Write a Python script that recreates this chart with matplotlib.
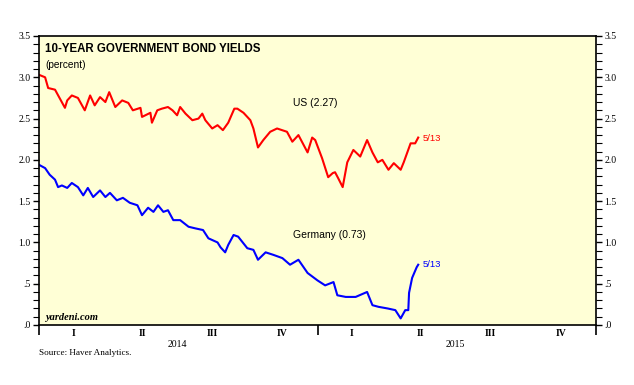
import numpy as np
import matplotlib
matplotlib.use("Agg")
import matplotlib.pyplot as plt
import pandas as pd

# US 10-year yield
us_dates = ["2014-01-01", "2014-01-09", "2014-01-13", "2014-01-22", "2014-02-04", "2014-02-07",
            "2014-02-13", "2014-02-21", "2014-03-02", "2014-03-09", "2014-03-15", "2014-03-22",
            "2014-03-29", "2014-04-03", "2014-04-11", "2014-04-20", "2014-04-28", "2014-05-04",
            "2014-05-14", "2014-05-16", "2014-05-27", "2014-05-29", "2014-06-05", "2014-06-11",
            "2014-06-19", "2014-06-25", "2014-07-01", "2014-07-05", "2014-07-12", "2014-07-21",
            "2014-07-29", "2014-08-03", "2014-08-07", "2014-08-16", "2014-08-23", "2014-08-30",
            "2014-09-06", "2014-09-14", "2014-09-18", "2014-09-26", "2014-10-05", "2014-10-09",
            "2014-10-15", "2014-10-22", "2014-10-31", "2014-11-09", "2014-11-22", "2014-11-29",
            "2014-12-07", "2014-12-19", "2014-12-25", "2014-12-29", "2015-01-07", "2015-01-15",
            "2015-01-21", "2015-01-24", "2015-01-28", "2015-02-03", "2015-02-09", "2015-02-17",
            "2015-02-26", "2015-03-07", "2015-03-14", "2015-03-21", "2015-03-27", "2015-04-04",
            "2015-04-11", "2015-04-20", "2015-04-24", "2015-05-03", "2015-05-09", "2015-05-13"]
us_vals = [3.03, 3.00, 2.87, 2.85, 2.63, 2.72, 2.78, 2.75, 2.60, 2.78, 2.66, 2.76,
           2.70, 2.82, 2.64, 2.72, 2.69, 2.60, 2.63, 2.52, 2.57, 2.45, 2.60, 2.62,
           2.64, 2.60, 2.54, 2.64, 2.56, 2.48, 2.50, 2.56, 2.48, 2.38, 2.42, 2.36,
           2.45, 2.62, 2.62, 2.57, 2.48, 2.38, 2.15, 2.24, 2.34, 2.38, 2.34, 2.22,
           2.30, 2.09, 2.27, 2.24, 2.02, 1.79, 1.84, 1.85, 1.78, 1.67, 1.97, 2.12,
           2.04, 2.24, 2.09, 1.97, 2.00, 1.88, 1.96, 1.88, 1.97, 2.20, 2.20, 2.27]

# German 10-year yield
de_dates = ["2014-01-01", "2014-01-09", "2014-01-15", "2014-01-22", "2014-01-26", "2014-01-31",
            "2014-02-07", "2014-02-13", "2014-02-21", "2014-02-28", "2014-03-06", "2014-03-13",
            "2014-03-22", "2014-03-29", "2014-04-04", "2014-04-13", "2014-04-21", "2014-04-30",
            "2014-05-10", "2014-05-16", "2014-05-24", "2014-05-31", "2014-06-06", "2014-06-13",
            "2014-06-19", "2014-06-26", "2014-07-05", "2014-07-16", "2014-07-25", "2014-08-04",
            "2014-08-11", "2014-08-23", "2014-08-27", "2014-08-30", "2014-09-02", "2014-09-06",
            "2014-09-13", "2014-09-19", "2014-10-01", "2014-10-09", "2014-10-15", "2014-10-25",
            "2014-11-04", "2014-11-16", "2014-11-26", "2014-12-07", "2014-12-19", "2015-01-01",
            "2015-01-11", "2015-01-22", "2015-01-27", "2015-02-07", "2015-02-20", "2015-03-07",
            "2015-03-14", "2015-03-22", "2015-04-03", "2015-04-13", "2015-04-20", "2015-04-26",
            "2015-04-30", "2015-05-01", "2015-05-05", "2015-05-11", "2015-05-13"]
de_vals = [1.94, 1.90, 1.82, 1.76, 1.67, 1.69, 1.66, 1.72, 1.67, 1.57, 1.66, 1.55,
           1.63, 1.55, 1.60, 1.51, 1.54, 1.48, 1.45, 1.33, 1.42, 1.37, 1.45, 1.37,
           1.39, 1.27, 1.27, 1.19, 1.17, 1.15, 1.05, 1.00, 0.94, 0.91, 0.88, 0.97,
           1.09, 1.07, 0.93, 0.91, 0.79, 0.88, 0.85, 0.81, 0.73, 0.79, 0.63, 0.54,
           0.48, 0.52, 0.36, 0.34, 0.34, 0.40, 0.24, 0.22, 0.20, 0.18, 0.08, 0.18,
           0.18, 0.39, 0.57, 0.70, 0.73]

quarters = ["I", "II", "III", "IV"]
years = [2014, 2015]
yticks = [0.0, 0.5, 1.0, 1.5, 2.0, 2.5, 3.0, 3.5]
ylabels = [".0", ".5", "1.0", "1.5", "2.0", "2.5", "3.0", "3.5"]

us = pd.Series(us_vals, index=pd.to_datetime(us_dates))
de = pd.Series(de_vals, index=pd.to_datetime(de_dates))

serif = "Liberation Serif"
sans = "Liberation Sans"

fig = plt.figure(figsize=(6.34, 3.85), dpi=100)
ax = fig.add_axes([39 / 634, 1 - 325 / 385, (596 - 39) / 634, (325 - 36) / 385])
ax.set_facecolor("#FFFFD6")

ax.plot(us.index, us.values, color="#FF0000", lw=1.5)
ax.plot(de.index, de.values, color="#0000FF", lw=1.5)

ax.set_xlim(pd.Timestamp("2014-01-01"), pd.Timestamp("2016-01-01"))
ax.set_ylim(0, 3.5)

# y axis on both sides
ax.set_yticks(yticks)
ax.set_yticklabels(ylabels, fontfamily=serif, fontsize=7)
ax.set_yticks(np.arange(0, 3.51, 0.1), minor=True)
ax.tick_params(axis="y", which="both", direction="out", left=True, right=True,
               labelleft=True, labelright=True, pad=2)
ax.tick_params(axis="y", which="major", length=4, width=1)
ax.tick_params(axis="y", which="minor", length=4, width=0.8)

# x axis: year boundaries as ticks, quarters and years as text
ax.set_xticks([pd.Timestamp(f"{y}-01-01") for y in [2014, 2015, 2016]])
ax.set_xticklabels([])
ax.tick_params(axis="x", which="major", direction="out", length=7, width=1.2)
for y in years:
    for qi, q in enumerate(quarters):
        q0 = pd.Timestamp(f"{y}-{3 * qi + 1:02d}-01")
        mid = q0 + (q0 + pd.DateOffset(months=3) - q0) / 2
        ax.annotate(q, (mid, 0), xycoords=("data", "axes fraction"), xytext=(0, -3),
                    textcoords="offset points", ha="center", va="top",
                    fontfamily=serif, fontsize=7, fontweight="bold")
    ax.annotate(str(y), (pd.Timestamp(f"{y}-07-01"), 0), xycoords=("data", "axes fraction"),
                xytext=(0, -10.5), textcoords="offset points", ha="center", va="top",
                fontfamily=serif, fontsize=7)

for s in ax.spines.values():
    s.set_linewidth(1.2)

ax.text(0.011, 0.975, "10-YEAR GOVERNMENT BOND YIELDS", transform=ax.transAxes,
        ha="left", va="top", fontfamily=sans, fontsize=8.3, fontweight="bold")
ax.text(0.012, 0.918, "(percent)", transform=ax.transAxes,
        ha="left", va="top", fontfamily=sans, fontsize=7.3)
ax.text(0.01, 0.012, "yardeni.com", transform=ax.transAxes, ha="left", va="bottom",
        fontfamily=serif, fontsize=7.5, fontweight="bold", fontstyle="italic")

ax.text(pd.Timestamp("2014-12-29"), 2.69, "US (2.27)", ha="center", va="center",
        fontfamily=sans, fontsize=7.5)
ax.text(pd.Timestamp("2015-01-17"), 1.09, "Germany (0.73)", ha="center", va="center",
        fontfamily=sans, fontsize=7.5)
ax.text(pd.Timestamp("2015-05-19"), us.iloc[-1] - 0.01, "5/13", ha="left", va="center",
        color="#FF0000", fontfamily=sans, fontsize=6.8)
ax.text(pd.Timestamp("2015-05-19"), de.iloc[-1], "5/13", ha="left", va="center",
        color="#0000FF", fontfamily=sans, fontsize=6.8)

fig.text(39 / 634, 1 - 353 / 385, "Source: Haver Analytics.", ha="left", va="center",
         fontfamily=serif, fontsize=6.6)

fig.savefig("out.png", dpi=100)
